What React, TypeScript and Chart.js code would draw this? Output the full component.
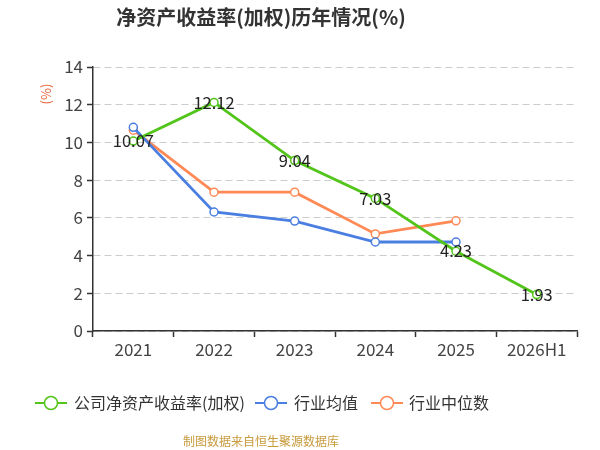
import React, { useEffect, useRef } from 'react';
import { Chart, registerables } from 'chart.js';

Chart.register(...registerables);

const years = ['2021', '2022', '2023', '2024', '2025', '2026H1'];
const companyRoe = [10.07, 12.12, 9.04, 7.03, 4.23, 1.93];
const industryAvg = [10.8, 6.31, 5.83, 4.72, 4.72, null];
const industryMedian = [10.65, 7.36, 7.36, 5.15, 5.84, null];
const yMin = 0;
const yMax = 14;
const yStep = 2;

const seriesNames = ['公司净资产收益率(加权)', '行业均值', '行业中位数'];
const seriesColors = ['#52c41a', '#4a7ee0', '#ff8a56'];

const FONT = "'Noto Sans CJK SC', 'Noto Sans', sans-serif";

const overlayPlugin = {
  id: 'overlay',
  afterDatasetsDraw(chart: Chart) {
    const ctx = chart.ctx;
    const meta = chart.getDatasetMeta(0);
    ctx.save();
    ctx.font = `16.5px ${FONT}`;
    ctx.fillStyle = '#222';
    ctx.textAlign = 'center';
    ctx.textBaseline = 'middle';
    meta.data.forEach((pt: any, i: number) => {
      ctx.fillText(companyRoe[i].toFixed(2), pt.x, pt.y);
    });
    ctx.restore();
  },
  afterDraw(chart: Chart) {
    const ctx = chart.ctx;
    ctx.save();
    // title
    ctx.font = `bold 20px ${FONT}`;
    ctx.fillStyle = '#333';
    ctx.textAlign = 'center';
    ctx.textBaseline = 'middle';
    ctx.fillText('净资产收益率(加权)历年情况(%)', 261, 17);

    // unit label
    ctx.save();
    ctx.translate(46, 94);
    ctx.rotate(-Math.PI / 2);
    ctx.font = `13px ${FONT}`;
    ctx.fillStyle = '#e8663a';
    ctx.fillText('(%)', 0, 0);
    ctx.restore();

    // legend
    const items = [
      { x: 35, tx: 74 },
      { x: 255, tx: 294 },
      { x: 371, tx: 409 },
    ];
    const ly = 403;
    ctx.font = `16px ${FONT}`;
    ctx.textAlign = 'left';
    items.forEach((it, i) => {
      ctx.strokeStyle = seriesColors[i];
      ctx.lineWidth = 2;
      ctx.beginPath();
      ctx.moveTo(it.x, ly);
      ctx.lineTo(it.x + 32, ly);
      ctx.stroke();
      ctx.beginPath();
      ctx.arc(it.x + 16, ly, 6.5, 0, Math.PI * 2);
      ctx.fillStyle = '#fff';
      ctx.fill();
      ctx.lineWidth = 1.5;
      ctx.stroke();
      ctx.fillStyle = '#333';
      ctx.fillText(seriesNames[i], it.tx, ly);
    });

    // source note
    ctx.font = `12px ${FONT}`;
    ctx.fillStyle = '#c89a3c';
    ctx.textAlign = 'center';
    ctx.fillText('制图数据来自恒生聚源数据库', 261, 441);
    ctx.restore();
  },
};

const App: React.FC = () => {
  const canvasRef = useRef<HTMLCanvasElement | null>(null);
  const chartRef = useRef<Chart | null>(null);

  useEffect(() => {
    if (!canvasRef.current) return;
    if (chartRef.current) chartRef.current.destroy();

    const dataArrays = [companyRoe, industryAvg, industryMedian];
    chartRef.current = new Chart(canvasRef.current, {
      type: 'line',
      data: {
        labels: years,
        datasets: dataArrays.map((d, i) => ({
          label: seriesNames[i],
          data: d,
          borderColor: seriesColors[i],
          backgroundColor: '#fff',
          pointBackgroundColor: '#fff',
          pointBorderColor: seriesColors[i],
          pointRadius: 4,
          pointBorderWidth: 1.5,
          borderWidth: 2.8,
          tension: 0,
          spanGaps: false,
        })),
      },
      options: {
        responsive: true,
        maintainAspectRatio: false,
        animation: false,
        layout: { padding: { left: 0, right: 23, top: 67, bottom: 0 } },
        plugins: {
          legend: { display: false },
          title: { display: false },
          tooltip: { enabled: false },
        },
        scales: {
          x: {
            offset: true,
            afterFit: (scale: any) => {
              scale.height = 119;
            },
            grid: {
              offset: true,
              drawOnChartArea: false,
              drawTicks: true,
              tickLength: 6,
              tickColor: '#333',
              tickWidth: 1.5,
            },
            border: { display: true, color: '#333', width: 1.5 },
            ticks: {
              color: '#444',
              padding: 2,
              font: { family: FONT, size: 17 },
              maxRotation: 0,
            },
          },
          y: {
            min: yMin,
            max: yMax,
            afterFit: (scale: any) => {
              scale.width = 93;
            },
            grid: {
              color: '#cccccc',
              lineWidth: 1,
              drawTicks: true,
              tickLength: 6,
              tickColor: '#333',
              tickWidth: 1.5,
              tickBorderDash: [],
            },
            border: { display: true, color: '#333', width: 1.5, dash: [7, 4] },
            ticks: {
              stepSize: yStep,
              color: '#444',
              padding: 4,
              font: { family: FONT, size: 17 },
            },
          },
        },
      },
      plugins: [overlayPlugin],
    });

    return () => {
      if (chartRef.current) {
        chartRef.current.destroy();
        chartRef.current = null;
      }
    };
  }, []);

  return (
    <div style={{ position: 'absolute', left: 0, top: 0, width: 600, height: 450, background: '#fff' }}>
      <canvas ref={canvasRef} />
    </div>
  );
};

export default App;
